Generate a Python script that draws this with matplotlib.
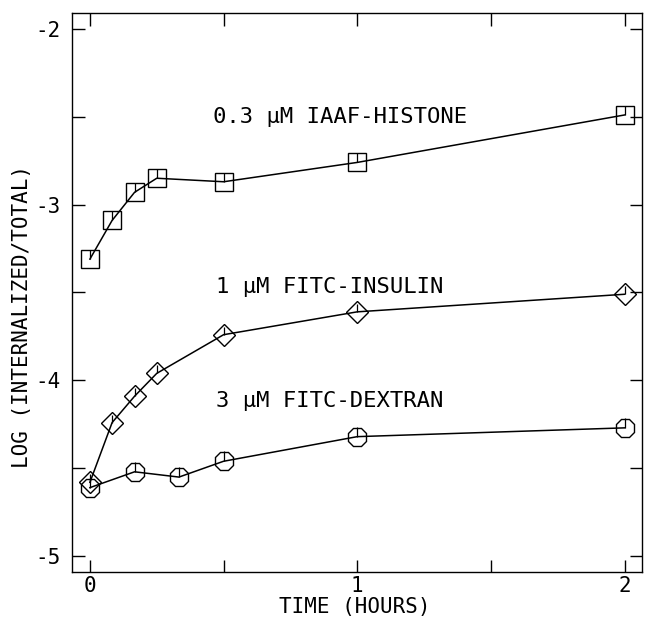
import matplotlib
matplotlib.use("Agg")
import matplotlib.pyplot as plt
from matplotlib.path import Path
from matplotlib.ticker import FixedLocator, FuncFormatter

# ---- data (time in hours, log10 of internalized/total) ----
histone_t = [0.0, 0.083, 0.167, 0.25, 0.5, 1.0, 2.0]
histone_y = [-3.31, -3.09, -2.93, -2.85, -2.87, -2.76, -2.49]

insulin_t = [0.0, 0.083, 0.167, 0.25, 0.5, 1.0, 2.0]
insulin_y = [-4.58, -4.24, -4.09, -3.96, -3.74, -3.61, -3.51]

dextran_t = [0.0, 0.167, 0.333, 0.5, 1.0, 2.0]
dextran_y = [-4.61, -4.52, -4.55, -4.46, -4.32, -4.27]

labels = ["0.3 µM IAAF-HISTONE", "1 µM FITC-INSULIN", "3 µM FITC-DEXTRAN"]
label_x = [0.46, 0.47, 0.47]
label_y = [-2.50, -3.47, -4.12]

x_ticks = [0, 0.5, 1, 1.5, 2]
y_ticks = [-5, -4.5, -4, -3.5, -3, -2.5, -2]

FONT = ["DejaVu Sans Mono", "DejaVu Sans"]
plt.rcParams["font.family"] = FONT

fig = plt.figure(figsize=(6.48, 6.18), dpi=100)
ax = fig.add_axes([72 / 648, 1 - 572 / 618, 570 / 648, 559 / 618])

center_tick = Path([(0, 0), (0, 1)], [Path.MOVETO, Path.LINETO])

series = [
    (histone_t, histone_y, "s", 13.5),
    (insulin_t, insulin_y, "D", 11.0),
    (dextran_t, dextran_y, "8", 14.5),
]
for t, y, m, ms in series:
    ax.plot(t, y, color="black", lw=1.1, marker=m, ms=ms,
            mfc="none", mec="black", mew=1.0)
    ax.plot(t, y, ls="none", marker=center_tick, ms=ms, mec="black", mew=0.9)

for txt, lx, ly in zip(labels, label_x, label_y):
    ax.text(lx, ly, txt, fontsize=16, va="center", ha="left", color="black")

ax.set_xlim(-0.067, 2.065)
ax.set_ylim(-5.09, -1.91)

ax.xaxis.set_major_locator(FixedLocator(x_ticks))
ax.yaxis.set_major_locator(FixedLocator(y_ticks))

def int_only(v, pos):
    if abs(v - round(v)) < 1e-6:
        return "%d" % round(v)
    return ""

ax.xaxis.set_major_formatter(FuncFormatter(int_only))
ax.yaxis.set_major_formatter(FuncFormatter(int_only))

ax.tick_params(direction="in", length=9, width=1.0, top=True, right=True,
               labelsize=15, pad=3)
ax.tick_params(axis="y", pad=8)
for s in ax.spines.values():
    s.set_linewidth(1.0)

fig.text(22 / 648, 1 - 316 / 618, "LOG (INTERNALIZED/TOTAL)", rotation=90,
         ha="center", va="center", fontsize=15)
fig.text(355 / 648, 1 - 607 / 618, "TIME (HOURS)", ha="center", va="center",
         fontsize=15)

fig.savefig("out.png", dpi=100)
